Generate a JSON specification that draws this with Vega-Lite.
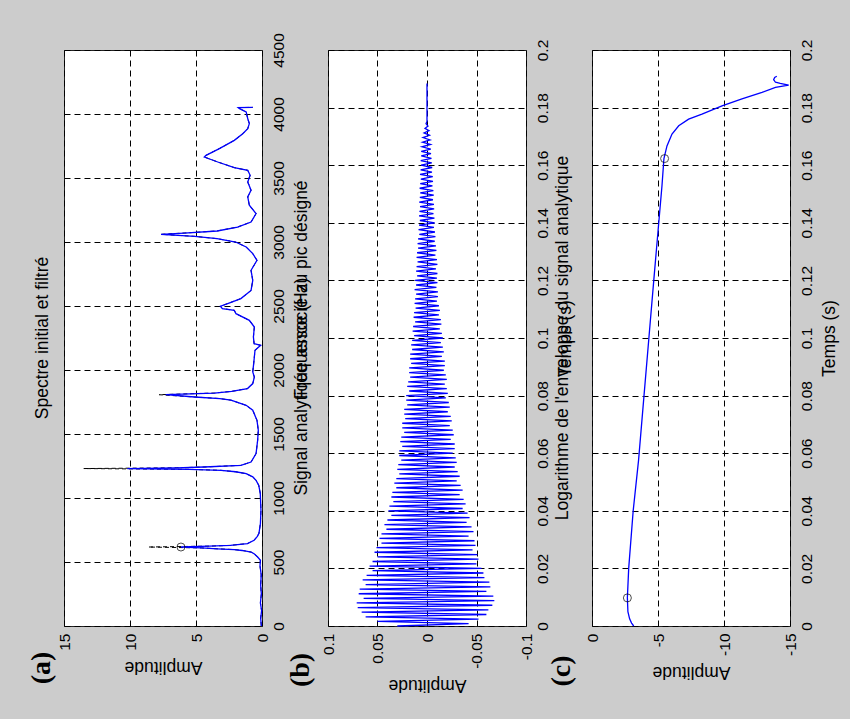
{
  "$schema": "https://vega.github.io/schema/vega-lite/v6.json",
  "background": "#cccccc",
  "padding": {"left": 27, "top": 32, "right": 13, "bottom": 26},
  "datasets": {
    "spectre": [
      {"f":0,"filt":0.05,"init":0.05},{"f":60,"filt":0.1,"init":0.1},{"f":120,"filt":0.03,"init":0.03},{"f":180,"filt":0.12,"init":0.12},
      {"f":250,"filt":0.05,"init":0.05},{"f":320,"filt":0.1,"init":0.1},{"f":400,"filt":0.06,"init":0.06},{"f":470,"filt":0.15,"init":0.15},
      {"f":513,"filt":0.12,"init":0.12},{"f":539,"filt":0.33,"init":0.33},{"f":565,"filt":0.6,"init":0.6},{"f":578,"filt":0.83,"init":0.83},
      {"f":590,"filt":1.5,"init":1.5},{"f":597,"filt":2.1,"init":2.1},{"f":603,"filt":3.4,"init":3.4},{"f":610,"filt":4.6,"init":4.6},
      {"f":617,"filt":6.14,"init":8.6},{"f":624,"filt":4.0,"init":4.0},{"f":630,"filt":2.4,"init":2.4},{"f":644,"filt":1.1,"init":1.1},
      {"f":670,"filt":0.6,"init":0.6},{"f":700,"filt":0.35,"init":0.35},{"f":724,"filt":0.23,"init":0.23},{"f":800,"filt":0.12,"init":0.12},
      {"f":904,"filt":0.08,"init":0.08},{"f":1036,"filt":0.13,"init":0.13},{"f":1100,"filt":0.25,"init":0.25},{"f":1138,"filt":0.45,"init":0.45},
      {"f":1165,"filt":0.7,"init":0.7},{"f":1190,"filt":1.2,"init":1.2},{"f":1205,"filt":2.0,"init":2.0},{"f":1216,"filt":3.1,"init":3.1},
      {"f":1224,"filt":5.5,"init":5.5},{"f":1230,"filt":10.2,"init":13.5},{"f":1236,"filt":6.5,"init":6.5},{"f":1242,"filt":4.4,"init":4.4},
      {"f":1255,"filt":1.6,"init":1.6},{"f":1281,"filt":0.83,"init":0.83},{"f":1347,"filt":0.45,"init":0.45},{"f":1451,"filt":0.33,"init":0.33},
      {"f":1529,"filt":0.28,"init":0.28},{"f":1607,"filt":0.38,"init":0.38},{"f":1686,"filt":0.7,"init":0.7},{"f":1724,"filt":1.2,"init":1.2},
      {"f":1764,"filt":2.35,"init":2.35},{"f":1777,"filt":3.2,"init":3.2},{"f":1789,"filt":5.1,"init":5.1},{"f":1807,"filt":7.3,"init":7.8},
      {"f":1820,"filt":3.6,"init":3.6},{"f":1833,"filt":2.3,"init":2.3},{"f":1855,"filt":1.1,"init":1.1},{"f":1894,"filt":0.7,"init":0.7},
      {"f":1945,"filt":0.58,"init":0.58},{"f":1985,"filt":0.7,"init":0.7},{"f":2050,"filt":0.63,"init":0.63},{"f":2154,"filt":0.53,"init":0.53},
      {"f":2193,"filt":0.1,"init":0.1},{"f":2206,"filt":0.6,"init":0.6},{"f":2258,"filt":0.65,"init":0.65},{"f":2336,"filt":0.58,"init":0.58},
      {"f":2388,"filt":0.96,"init":0.96},{"f":2440,"filt":1.97,"init":1.97},{"f":2466,"filt":2.1,"init":2.1},{"f":2480,"filt":3.0,"init":3.0},
      {"f":2498,"filt":3.15,"init":3.15},{"f":2519,"filt":2.6,"init":2.6},{"f":2558,"filt":1.6,"init":1.6},{"f":2622,"filt":0.83,"init":0.83},
      {"f":2700,"filt":0.7,"init":0.7},{"f":2779,"filt":0.83,"init":0.83},{"f":2857,"filt":0.38,"init":0.38},{"f":2909,"filt":0.7,"init":0.7},
      {"f":2961,"filt":1.2,"init":1.2},{"f":3000,"filt":2.0,"init":2.0},{"f":3026,"filt":3.4,"init":3.4},{"f":3044,"filt":5.1,"init":5.1},
      {"f":3060,"filt":7.65,"init":7.65},{"f":3070,"filt":5.9,"init":5.9},{"f":3086,"filt":3.4,"init":3.4},{"f":3117,"filt":1.85,"init":1.85},
      {"f":3156,"filt":0.83,"init":0.83},{"f":3222,"filt":0.45,"init":0.45},{"f":3287,"filt":0.96,"init":0.96},{"f":3352,"filt":1.08,"init":1.08},
      {"f":3404,"filt":0.83,"init":0.83},{"f":3469,"filt":1.08,"init":1.08},{"f":3521,"filt":0.9,"init":0.9},{"f":3560,"filt":1.08,"init":1.08},
      {"f":3581,"filt":2.1,"init":2.1},{"f":3625,"filt":3.35,"init":3.35},{"f":3664,"filt":4.37,"init":4.37},{"f":3677,"filt":4.24,"init":4.24},
      {"f":3730,"filt":3.23,"init":3.23},{"f":3794,"filt":2.1,"init":2.1},{"f":3846,"filt":1.46,"init":1.46},{"f":3886,"filt":1.08,"init":1.08},
      {"f":3925,"filt":0.96,"init":0.96},{"f":3964,"filt":1.08,"init":1.08},{"f":4016,"filt":1.2,"init":1.2},{"f":4042,"filt":1.7,"init":1.7},
      {"f":4050,"filt":1.8,"init":1.8},{"f":4052,"filt":0.7,"init":0.7}
    ],
    "signal": [
      {"t":0,"v":0.030},{"t":0.0008,"v":-0.042},{"t":0.0016,"v":0.050},{"t":0.0024,"v":-0.052},{"t":0.0032,"v":0.062},{"t":0.004,"v":-0.060},
      {"t":0.0048,"v":0.066},{"t":0.0056,"v":-0.062},{"t":0.0064,"v":0.070},{"t":0.0072,"v":-0.066},{"t":0.008,"v":0.071},{"t":0.0088,"v":-0.068},
      {"t":0.0096,"v":0.064},{"t":0.0104,"v":-0.067},{"t":0.0112,"v":0.069},{"t":0.012,"v":-0.060},{"t":0.0128,"v":0.068},{"t":0.0136,"v":-0.064},
      {"t":0.0144,"v":0.062},{"t":0.0152,"v":-0.063},{"t":0.016,"v":0.065},{"t":0.0168,"v":-0.058},{"t":0.0176,"v":0.061},{"t":0.0184,"v":-0.057},
      {"t":0.0192,"v":0.055},{"t":0.02,"v":-0.055},{"t":0.0208,"v":0.058},{"t":0.0216,"v":-0.050},{"t":0.0224,"v":0.055},{"t":0.0232,"v":-0.052},
      {"t":0.024,"v":0.050},{"t":0.0248,"v":-0.051},{"t":0.0256,"v":0.053},{"t":0.0264,"v":-0.046},{"t":0.0272,"v":0.051},{"t":0.028,"v":-0.049},
      {"t":0.0288,"v":0.046},{"t":0.0296,"v":-0.048},{"t":0.0304,"v":0.048},{"t":0.0312,"v":-0.042},{"t":0.032,"v":0.046},{"t":0.0328,"v":-0.047},
      {"t":0.0336,"v":0.041},{"t":0.0344,"v":-0.045},{"t":0.0352,"v":0.043},{"t":0.036,"v":-0.040},{"t":0.0368,"v":0.040},{"t":0.0376,"v":-0.043},
      {"t":0.0384,"v":0.036},{"t":0.0392,"v":-0.041},{"t":0.04,"v":0.039},{"t":0.0408,"v":-0.036},{"t":0.0416,"v":0.038},{"t":0.0424,"v":-0.039},
      {"t":0.0432,"v":0.034},{"t":0.044,"v":-0.037},{"t":0.0448,"v":0.036},{"t":0.0456,"v":-0.033},{"t":0.0464,"v":0.035},{"t":0.0472,"v":-0.036},
      {"t":0.048,"v":0.031},{"t":0.0488,"v":-0.034},{"t":0.0496,"v":0.033},{"t":0.0504,"v":-0.030},{"t":0.0512,"v":0.031},{"t":0.052,"v":-0.033},
      {"t":0.0528,"v":0.028},{"t":0.0536,"v":-0.031},{"t":0.0544,"v":0.030},{"t":0.0552,"v":-0.028},{"t":0.056,"v":0.029},{"t":0.0568,"v":-0.030},
      {"t":0.0576,"v":0.026},{"t":0.0584,"v":-0.029},{"t":0.0592,"v":0.028},{"t":0.06,"v":-0.026},{"t":0.0608,"v":0.028},{"t":0.0616,"v":-0.028},
      {"t":0.0624,"v":0.025},{"t":0.0632,"v":-0.028},{"t":0.064,"v":0.027},{"t":0.0648,"v":-0.024},{"t":0.0656,"v":0.026},{"t":0.0664,"v":-0.027},
      {"t":0.0672,"v":0.023},{"t":0.068,"v":-0.026},{"t":0.0688,"v":0.025},{"t":0.0696,"v":-0.023},{"t":0.0704,"v":0.025},{"t":0.0712,"v":-0.025},
      {"t":0.072,"v":0.022},{"t":0.0728,"v":-0.024},{"t":0.0736,"v":0.023},{"t":0.0744,"v":-0.021},{"t":0.0752,"v":0.023},{"t":0.076,"v":-0.023},
      {"t":0.0768,"v":0.020},{"t":0.0776,"v":-0.022},{"t":0.0784,"v":0.021},{"t":0.0792,"v":-0.019},{"t":0.08,"v":0.021},{"t":0.0808,"v":-0.021},
      {"t":0.0816,"v":0.018},{"t":0.0824,"v":-0.020},{"t":0.0832,"v":0.020},{"t":0.084,"v":-0.018},{"t":0.0848,"v":0.019},{"t":0.0856,"v":-0.020},
      {"t":0.0864,"v":0.017},{"t":0.0872,"v":-0.019},{"t":0.088,"v":0.018},{"t":0.0888,"v":-0.017},{"t":0.0896,"v":0.018},{"t":0.0904,"v":-0.018},
      {"t":0.0912,"v":0.016},{"t":0.092,"v":-0.018},{"t":0.0928,"v":0.017},{"t":0.0936,"v":-0.015},{"t":0.0944,"v":0.017},{"t":0.0952,"v":-0.017},
      {"t":0.096,"v":0.015},{"t":0.0968,"v":-0.016},{"t":0.0976,"v":0.016},{"t":0.0984,"v":-0.014},{"t":0.0992,"v":0.015},{"t":0.1,"v":-0.016},
      {"t":0.1008,"v":0.013},{"t":0.1016,"v":-0.015},{"t":0.1024,"v":0.0145},{"t":0.1032,"v":-0.013},{"t":0.104,"v":0.014},{"t":0.1048,"v":-0.0145},
      {"t":0.1056,"v":0.012},{"t":0.1064,"v":-0.014},{"t":0.1072,"v":0.0135},{"t":0.108,"v":-0.012},{"t":0.1088,"v":0.013},{"t":0.1096,"v":-0.013},
      {"t":0.1104,"v":0.0115},{"t":0.1112,"v":-0.012},{"t":0.112,"v":0.0125},{"t":0.1128,"v":-0.010},{"t":0.1136,"v":0.012},{"t":0.1144,"v":-0.011},
      {"t":0.1152,"v":0.011},{"t":0.116,"v":-0.011},{"t":0.1168,"v":0.0125},{"t":0.1176,"v":-0.0095},{"t":0.1184,"v":0.011},{"t":0.1192,"v":-0.0105},
      {"t":0.12,"v":0.012},{"t":0.1208,"v":-0.010},{"t":0.1216,"v":0.010},{"t":0.1224,"v":-0.0105},{"t":0.1232,"v":0.011},{"t":0.124,"v":-0.009},
      {"t":0.1248,"v":0.0105},{"t":0.1256,"v":-0.0105},{"t":0.1264,"v":0.0095},{"t":0.1272,"v":-0.010},{"t":0.128,"v":0.0105},{"t":0.1288,"v":-0.0085},
      {"t":0.1296,"v":0.010},{"t":0.1304,"v":-0.0095},{"t":0.1312,"v":0.009},{"t":0.132,"v":-0.009},{"t":0.1328,"v":0.0095},{"t":0.1336,"v":-0.0078},
      {"t":0.1344,"v":0.009},{"t":0.1352,"v":-0.0085},{"t":0.136,"v":0.0078},{"t":0.1368,"v":-0.008},{"t":0.1376,"v":0.0085},{"t":0.1384,"v":-0.007},
      {"t":0.1392,"v":0.008},{"t":0.14,"v":-0.0078},{"t":0.1408,"v":0.0072},{"t":0.1416,"v":-0.0075},{"t":0.1424,"v":0.008},{"t":0.1432,"v":-0.0065},
      {"t":0.144,"v":0.0076},{"t":0.1448,"v":-0.0072},{"t":0.1456,"v":0.007},{"t":0.1464,"v":-0.007},{"t":0.1472,"v":0.0078},{"t":0.148,"v":-0.006},
      {"t":0.1488,"v":0.0072},{"t":0.1496,"v":-0.0068},{"t":0.1504,"v":0.0068},{"t":0.1512,"v":-0.0064},{"t":0.152,"v":0.0074},{"t":0.1528,"v":-0.0055},
      {"t":0.1536,"v":0.0068},{"t":0.1544,"v":-0.006},{"t":0.1552,"v":0.0062},{"t":0.156,"v":-0.0058},{"t":0.1568,"v":0.007},{"t":0.1576,"v":-0.005},
      {"t":0.1584,"v":0.0064},{"t":0.1592,"v":-0.0052},{"t":0.16,"v":0.006},{"t":0.1608,"v":-0.0048},{"t":0.1616,"v":0.0063},{"t":0.1624,"v":-0.0045},
      {"t":0.1632,"v":0.0058},{"t":0.164,"v":-0.004},{"t":0.1648,"v":0.0058},{"t":0.1656,"v":-0.0038},{"t":0.1664,"v":0.005},{"t":0.1672,"v":-0.0035},
      {"t":0.168,"v":0.0045},{"t":0.1688,"v":-0.003},{"t":0.1696,"v":0.004},{"t":0.1704,"v":-0.0025},{"t":0.1712,"v":0.003},{"t":0.172,"v":-0.002},
      {"t":0.1728,"v":0.002},{"t":0.1736,"v":-0.001},{"t":0.1744,"v":0.001},{"t":0.1752,"v":0},{"t":0.1884,"v":0}
    ],
    "logenv": [
      {"t":0,"v":-3.16},{"t":0.001,"v":-3.0},{"t":0.0025,"v":-2.85},{"t":0.005,"v":-2.72},{"t":0.0098,"v":-2.68},{"t":0.02,"v":-2.78},
      {"t":0.04,"v":-3.12},{"t":0.0577,"v":-3.53},{"t":0.08,"v":-3.94},{"t":0.1,"v":-4.31},{"t":0.12,"v":-4.68},{"t":0.137,"v":-5.0},
      {"t":0.1528,"v":-5.3},{"t":0.1623,"v":-5.45},{"t":0.1667,"v":-5.68},{"t":0.1708,"v":-6.06},{"t":0.1737,"v":-6.57},{"t":0.176,"v":-7.32},
      {"t":0.1777,"v":-8.33},{"t":0.1806,"v":-9.85},{"t":0.183,"v":-11.36},{"t":0.1853,"v":-12.88},{"t":0.187,"v":-13.9},{"t":0.1878,"v":-14.9},
      {"t":0.1884,"v":-14.26},{"t":0.1888,"v":-13.9},{"t":0.1897,"v":-13.76},{"t":0.1905,"v":-13.84},{"t":0.1909,"v":-14.0}
    ]
  },
  "hconcat": [
    {
      "width": 198,
      "height": 576,
      "title": {"text": "Spectre initial et filtré"},
      "data": {"name": "spectre"},
      "layer": [
        {
          "mark": {"type": "line", "color": "#000000", "strokeWidth": 1, "strokeDash": [4, 3]},
          "encoding": {
            "y": {"field": "f", "type": "quantitative", "title": "Fréquence (Hz)",
                  "scale": {"domain": [0, 4500], "nice": false, "zero": false},
                  "axis": {"orient": "right", "values": [0,500,1000,1500,2000,2500,3000,3500,4000,4500],
                           "labelExpr": "datum.value + ''",
                           "labelAngle": 270, "labelAlign": "center", "labelBaseline": "top", "labelPadding": 9,
                           "titleAngle": 270, "titleAlign": "center", "titleBaseline": "top", "titlePadding": 6}},
            "x": {"field": "init", "type": "quantitative", "title": "Amplitude",
                  "scale": {"domain": [0, 15], "reverse": true, "nice": false},
                  "axis": {"orient": "bottom", "values": [0,5,10,15],
                           "labelExpr": "datum.value + ''",
                           "labelAngle": 270, "labelAlign": "right", "labelBaseline": "middle", "labelPadding": 7,
                           "titleAngle": 180, "titleAlign": "center", "titleBaseline": "bottom", "titlePadding": 7}},
            "order": {"field": "f", "type": "quantitative"}
          }
        },
        {
          "mark": {"type": "line", "color": "#0000ff", "strokeWidth": 1.3},
          "encoding": {
            "y": {"field": "f", "type": "quantitative", "title": "Fréquence (Hz)"},
            "x": {"field": "filt", "type": "quantitative", "title": "Amplitude"},
            "order": {"field": "f", "type": "quantitative"}
          }
        },
        {
          "data": {"values": [{"f": 617, "a": 6.14}]},
          "mark": {"type": "point", "shape": "circle", "filled": false, "color": "#000000", "strokeWidth": 1, "size": 64},
          "encoding": {
            "y": {"field": "f", "type": "quantitative", "title": "Fréquence (Hz)"},
            "x": {"field": "a", "type": "quantitative", "title": "Amplitude"}
          }
        },
        {
          "data": {"values": [{"lab": "(a)"}]},
          "mark": {"type": "text", "angle": 270, "align": "center", "baseline": "middle", "dx": -42, "dy": -22,
                   "font": "Liberation Serif", "fontWeight": "bold", "fontSize": 28, "color": "#000000"},
          "encoding": {
            "x": {"datum": 15, "type": "quantitative", "title": "Amplitude"},
            "y": {"datum": 0, "type": "quantitative", "title": "Fréquence (Hz)"},
            "text": {"field": "lab"}
          }
        }
      ]
    },
    {
      "width": 198,
      "height": 576,
      "title": {"text": "Signal analytique associé au pic désigné"},
      "data": {"name": "signal"},
      "layer": [
        {
          "mark": {"type": "line", "color": "#0000ff", "strokeWidth": 1.3},
          "encoding": {
            "y": {"field": "t", "type": "quantitative", "title": "Temps (s)",
                  "scale": {"domain": [0, 0.2], "nice": false, "zero": false},
                  "axis": {"orient": "right", "values": [0,0.02,0.04,0.06,0.08,0.1,0.12,0.14,0.16,0.18,0.2],
                           "labelExpr": "datum.value + ''",
                           "labelAngle": 270, "labelAlign": "center", "labelBaseline": "top", "labelPadding": 9,
                           "titleAngle": 270, "titleAlign": "center", "titleBaseline": "top", "titlePadding": 6}},
            "x": {"field": "v", "type": "quantitative", "title": "Amplitude",
                  "scale": {"domain": [-0.1, 0.1], "reverse": true, "nice": false, "zero": false},
                  "axis": {"orient": "bottom", "values": [-0.1,-0.05,0,0.05,0.1],
                           "labelExpr": "datum.value + ''",
                           "labelAngle": 270, "labelAlign": "right", "labelBaseline": "middle", "labelPadding": 7,
                           "titleAngle": 180, "titleAlign": "center", "titleBaseline": "bottom", "titlePadding": 7}},
            "order": {"field": "t", "type": "quantitative"}
          }
        },
        {
          "data": {"values": [{"lab": "(b)"}]},
          "mark": {"type": "text", "angle": 270, "align": "center", "baseline": "middle", "dx": -44, "dy": -27,
                   "font": "Liberation Serif", "fontWeight": "bold", "fontSize": 28, "color": "#000000"},
          "encoding": {
            "x": {"datum": 0.1, "type": "quantitative", "title": "Amplitude"},
            "y": {"datum": 0, "type": "quantitative", "title": "Temps (s)"},
            "text": {"field": "lab"}
          }
        }
      ]
    },
    {
      "width": 198,
      "height": 576,
      "title": {"text": "Logarithme de l'enveloppe du signal analytique"},
      "data": {"name": "logenv"},
      "layer": [
        {
          "mark": {"type": "line", "color": "#0000ff", "strokeWidth": 1.3},
          "encoding": {
            "y": {"field": "t", "type": "quantitative", "title": "Temps (s)",
                  "scale": {"domain": [0, 0.2], "nice": false, "zero": false},
                  "axis": {"orient": "right", "values": [0,0.02,0.04,0.06,0.08,0.1,0.12,0.14,0.16,0.18,0.2],
                           "labelExpr": "datum.value + ''",
                           "labelAngle": 270, "labelAlign": "center", "labelBaseline": "top", "labelPadding": 9,
                           "titleAngle": 270, "titleAlign": "center", "titleBaseline": "top", "titlePadding": 6}},
            "x": {"field": "v", "type": "quantitative", "title": "Amplitude",
                  "scale": {"domain": [-15, 0], "reverse": true, "nice": false, "zero": false},
                  "axis": {"orient": "bottom", "values": [-15,-10,-5,0],
                           "labelExpr": "datum.value + ''",
                           "labelAngle": 270, "labelAlign": "right", "labelBaseline": "middle", "labelPadding": 7,
                           "titleAngle": 180, "titleAlign": "center", "titleBaseline": "bottom", "titlePadding": 7}},
            "order": {"field": "t", "type": "quantitative"}
          }
        },
        {
          "data": {"values": [{"t": 0.00976, "v": -2.68}, {"t": 0.1623, "v": -5.5}]},
          "mark": {"type": "point", "shape": "circle", "filled": false, "color": "#000000", "strokeWidth": 1, "size": 64},
          "encoding": {
            "y": {"field": "t", "type": "quantitative", "title": "Temps (s)"},
            "x": {"field": "v", "type": "quantitative", "title": "Amplitude"}
          }
        },
        {
          "data": {"values": [{"lab": "(c)"}]},
          "mark": {"type": "text", "angle": 270, "align": "center", "baseline": "middle", "dx": -45, "dy": -30,
                   "font": "Liberation Serif", "fontWeight": "bold", "fontSize": 28, "color": "#000000"},
          "encoding": {
            "x": {"datum": 0, "type": "quantitative", "title": "Amplitude"},
            "y": {"datum": 0, "type": "quantitative", "title": "Temps (s)"},
            "text": {"field": "lab"}
          }
        }
      ]
    }
  ],
  "spacing": 66,
  "bounds": "flush",
  "config": {
    "view": {"fill": "#ffffff", "stroke": "#222222", "strokeWidth": 1},
    "title": {"orient": "left", "anchor": "middle", "offset": -23, "font": "Liberation Sans", "fontSize": 17.5,
              "fontWeight": "normal", "color": "#000000"},
    "axis": {
      "labelFont": "Liberation Sans", "labelFontSize": 15.5, "labelColor": "#000000",
      "titleFont": "Liberation Sans", "titleFontSize": 17.5, "titleFontWeight": "normal", "titleColor": "#000000",
      "domain": false, "ticks": false, "grid": true, "gridColor": "#000000", "gridDash": [6, 4], "gridWidth": 1, "gridOpacity": 1,
      "labelFlush": false, "labelOverlap": false, "labelBound": false
    }
  }
}
